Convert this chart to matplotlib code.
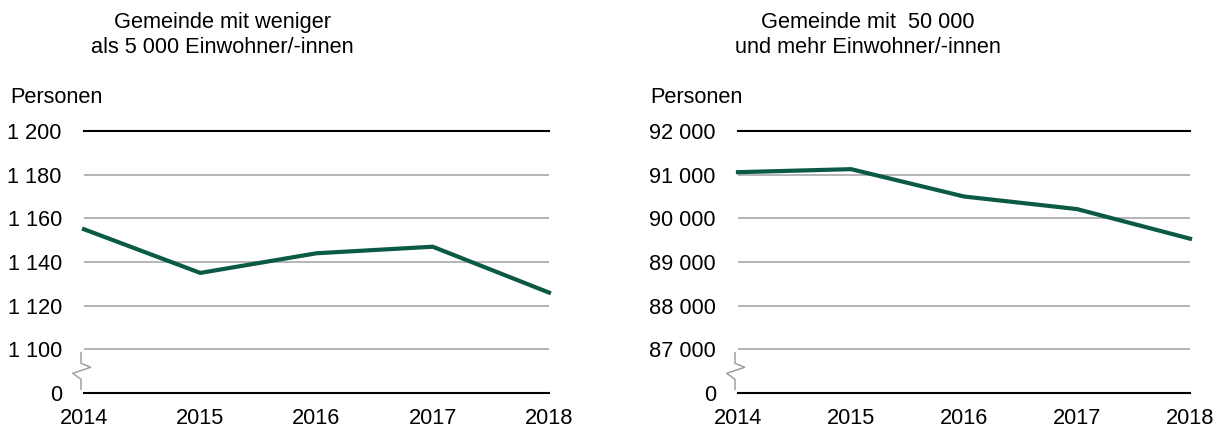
import matplotlib.pyplot as plt
from matplotlib.lines import Line2D

plt.rcParams['font.family'] = ['Liberation Sans', 'DejaVu Sans']

years = [2014, 2015, 2016, 2017, 2018]
small_values = [1155, 1135, 1144, 1147, 1126]
large_values = [91057, 91126, 90500, 90212, 89534]

small_ticks = [1100, 1120, 1140, 1160, 1180, 1200]
large_ticks = [87000, 88000, 89000, 90000, 91000, 92000]

small_title = 'Gemeinde mit weniger\nals 5 000 Einwohner/-innen'
large_title = 'Gemeinde mit  50 000\nund mehr Einwohner/-innen'

green = '#0b5a45'
grid_gray = '#a0a0a0'
fs = 15.7


def fmt(v):
    return f'{v:,}'.replace(',', ' ')


fig = plt.figure(figsize=(12.22, 4.32), dpi=100)


def panel(x0, x1, values, ticks, title, title_x, label_x):
    left = x0 / 1222
    ax = fig.add_axes([left, 1 - 393 / 432, (x1 - x0) / 1222, (393 - 131) / 432])
    step = ticks[1] - ticks[0]
    zero_pos = ticks[0] - step
    ax.set_xlim(years[0], years[-1])
    ax.set_ylim(zero_pos, ticks[-1])
    for t in ticks[:-1]:
        ax.axhline(t, color=grid_gray, lw=1.1, zorder=1)
    ax.axhline(ticks[-1], color='black', lw=1.5, zorder=1, clip_on=False)
    ax.axhline(zero_pos, color='black', lw=1.5, zorder=1, clip_on=False)
    ax.plot(years, values, color=green, lw=3, zorder=3, clip_on=False)
    ax.set_yticks([zero_pos] + ticks)
    ax.set_yticklabels(['0'] + [fmt(t) for t in ticks])
    ax.set_xticks(years)
    ax.set_xticklabels([str(y) for y in years])
    ax.tick_params(axis='y', length=0, pad=16, labelsize=fs)
    ax.tick_params(axis='x', length=0, pad=11, labelsize=fs)
    for s in ax.spines.values():
        s.set_visible(False)
    ax.patch.set_alpha(0)
    # axis break symbol
    bx = x0 - 3
    pts = [(bx, 352.7), (bx, 363.3), (bx + 9.7, 367.3), (bx - 8.3, 373.3),
           (bx, 379.3), (bx, 389.3)]
    fig.add_artist(Line2D([p[0] / 1222 for p in pts], [1 - p[1] / 432 for p in pts],
                          color=grid_gray, lw=1.1))
    fig.text(title_x / 1222, 1 - 35 / 432, title, ha='center', va='center',
             fontsize=fs, linespacing=1.25)
    fig.text(label_x / 1222, 1 - 103.3 / 432, 'Personen', ha='left',
             va='baseline', fontsize=fs)
    return ax


panel(84, 549, small_values, small_ticks, small_title, 222, 10)
panel(738, 1190, large_values, large_ticks, large_title, 868, 650)

fig.savefig('out.png', dpi=100)
